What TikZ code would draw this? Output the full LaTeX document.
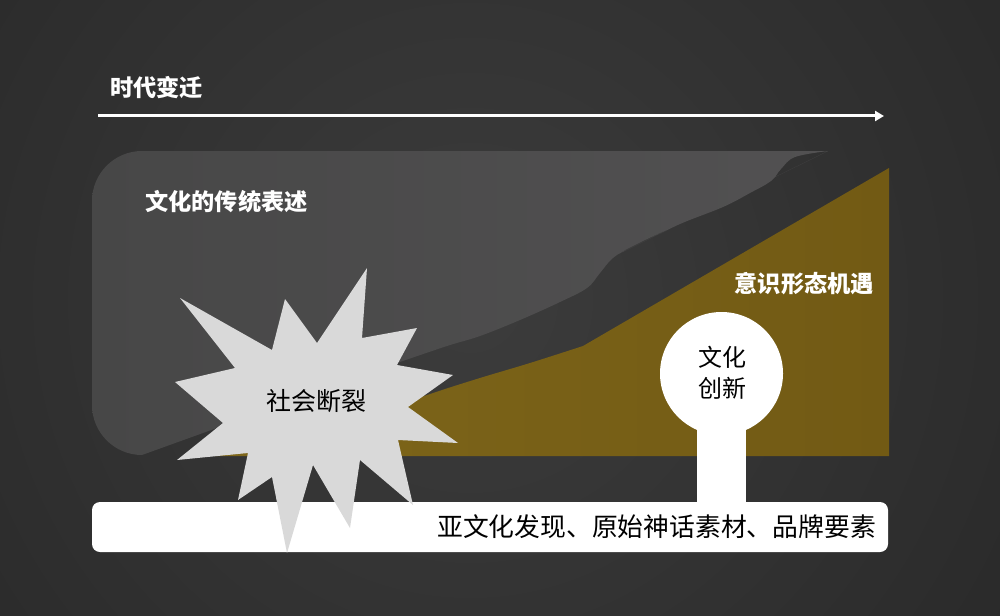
\documentclass[tikz,border=0pt]{standalone}
\usepackage{fontspec}
\newfontfamily\cjk{Noto Sans CJK SC}
\usetikzlibrary{arrows.meta}
\definecolor{bgin}{HTML}{3C3C3C}
\definecolor{bgout}{HTML}{1C1C1C}
\definecolor{greyL}{HTML}{474747}
\definecolor{greyM}{HTML}{5A595A}
\definecolor{greyR}{HTML}{525152}
\definecolor{goldL}{HTML}{7E661A}
\definecolor{goldR}{HTML}{725A14}
\definecolor{burst}{HTML}{D9D9D9}
\tikzset{
  whitelabel/.style={text=white, inner sep=0pt, font=\cjk\bfseries\fontsize{23.2pt}{27pt}\selectfont},
  blacklabel/.style={text=black, inner sep=0pt, font=\cjk\fontsize{24pt}{31pt}\selectfont},
}
\begin{document}
\begin{tikzpicture}[x=1pt,y=-1pt]
\useasboundingbox (0,0) rectangle (1000,615);
% background
\begin{scope}
\clip (0,0) rectangle (1000,615);
\shade[inner color=bgin, outer color=bgout] (470,300) circle (1120);
\end{scope}
% time arrow
\coordinate (tl) at (98,116);
\coordinate (tr) at (884,116);
\draw[white, line width=3pt, -{Triangle[length=9pt,width=10pt]}] (tl) -- (tr);
\node[whitelabel, anchor=west] (era) at (110,88) {时代变迁};
% grey traditional area
\shade[left color=greyL, middle color=greyM, right color=greyR]
  (828,151) -- (142,151) arc[start angle=270, end angle=180, radius=50]
  -- (92,405) arc[start angle=180, end angle=90, radius=50]
  -- (397,363)
  plot[smooth, tension=0.6] coordinates {(397,363) (447,346) (480,336) (520,320) (560,302) (587,288) (600,273) (613,258) (633,246) (680,224) (723,207) (750,193) (771,181) (781,169) (795,157) (828,151)}
  -- cycle;
% gold opportunity area
\shade[left color=goldL, right color=goldR]
  (215,456) plot[smooth, tension=0.6] coordinates {(215,456) (330,428) (430,394) (480,378) (530,363) (583,346)}
  -- (889,168) -- (889,456) -- cycle;
% bottom bar
\node[fill=white, rounded corners=8pt, minimum width=796pt, minimum height=50pt, inner sep=0pt] (bar) at (490,527) {};
\node[blacklabel, anchor=east, font=\cjk\fontsize{25.8pt}{30pt}\selectfont] (barText) at (876,527) {亚文化发现、原始神话素材、品牌要素};
% innovation circle and stem
\node[circle, fill=white, minimum size=123pt, inner sep=0pt] (innov) at (721.5,373.5) {};
\draw[white, line width=49pt] (innov.center) -- (innov.center |- bar.north);
\node[blacklabel, align=center] (innovText) at (722,373) {文化\\创新};
% burst
\fill[burst] (367,268) -- (362,338) -- (417,328) -- (397,365) -- (453,375) -- (408,407)
  -- (458,443) -- (398,440) -- (413,505) -- (360,460) -- (350,528) -- (313,465)
  -- (287,553) -- (272,477) -- (238,500) -- (248,453) -- (177,460) -- (223,423)
  -- (175,382) -- (235,368) -- (180,298) -- (272,350) -- (285,299) -- (317,343) -- cycle;
\node[blacklabel, font=\cjk\fontsize{25pt}{30pt}\selectfont] (rupture) at (316,401) {社会断裂};
% labels
\node[whitelabel, anchor=west] (trad) at (145,202) {文化的传统表述};
\node[whitelabel, anchor=east] (ideo) at (874,284) {意识形态机遇};
\end{tikzpicture}
\end{document}
